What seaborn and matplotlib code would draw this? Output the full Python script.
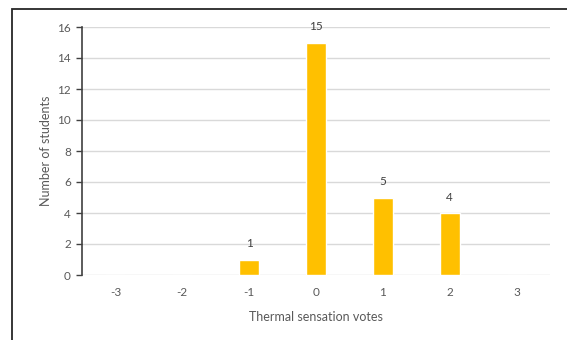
import matplotlib
matplotlib.use("Agg")
import matplotlib.pyplot as plt
import seaborn as sns
import pandas as pd
from matplotlib.patches import Rectangle

# Votes and counts
votes = ['-3', '-2', '-1', '0', '1', '2', '3']
students = [0, 0, 1, 15, 5, 4, 0]

df = pd.DataFrame({'Vote': votes, 'Students': students})

sns.set_theme(style='white')
plt.rcParams['font.family'] = ['Lato', 'DejaVu Sans']
text_color = '#595959'

fig = plt.figure(figsize=(5.67, 3.4), dpi=100)
ax = fig.add_axes([82 / 567, 1 - 275 / 340, (550 - 82) / 567, (275 - 27) / 340])

sns.barplot(data=df, x='Vote', y='Students', color='#FFC000', width=0.3,
            saturation=1, ax=ax, zorder=3)

# Value labels only for non-zero bars
for i, v in enumerate(students):
    if v > 0:
        ax.text(i, v + 0.65, str(v), ha='center', va='bottom',
                fontsize=8.5, color='#404040')

ax.set_ylim(0, 16)
ax.set_yticks(range(0, 17, 2))
ax.set_xlim(-0.5, len(votes) - 0.5)
ax.yaxis.grid(True, color='#D9D9D9', linewidth=1, zorder=0)
ax.set_axisbelow(True)

for side in ['top', 'right', 'bottom']:
    ax.spines[side].set_visible(False)
ax.spines['left'].set_color('#404040')
ax.spines['left'].set_linewidth(1.2)

ax.tick_params(axis='y', length=4, width=1, color='#404040', left=True,
               labelsize=8.5, labelcolor=text_color, pad=4)
ax.tick_params(axis='x', length=0, labelsize=8.5, labelcolor=text_color, pad=9)

ax.set_ylabel('Number of students', fontsize=9, color=text_color, labelpad=4)
ax.set_xlabel('Thermal sensation votes', fontsize=9, color=text_color, labelpad=9)

# Frame border visible on top and left of the screenshot
fig.patches.append(Rectangle((12 / 567, -0.1), 1.2, 1 - 9 / 340 + 0.1,
                             transform=fig.transFigure, fill=False,
                             edgecolor='#262626', linewidth=1.3))

plt.savefig('out.png', dpi=100)
plt.close()
